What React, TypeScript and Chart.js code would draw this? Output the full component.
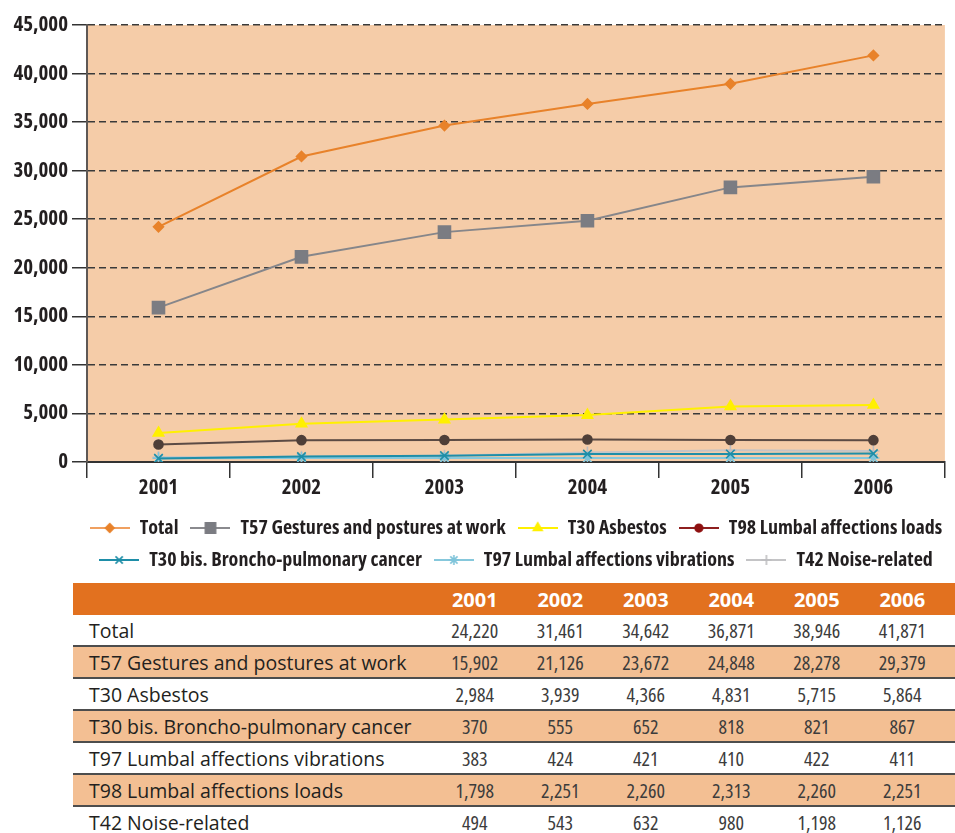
import React, { useEffect, useRef } from 'react';
import { Chart, registerables } from 'chart.js';
import { drawPoint } from 'chart.js/helpers';

Chart.register(...registerables);

// ---- data ----
const years = ['2001', '2002', '2003', '2004', '2005', '2006'];
const total = [24220, 31461, 34642, 36871, 38946, 41871];
const t57 = [15902, 21126, 23672, 24848, 28278, 29379];
const t30 = [2984, 3939, 4366, 4831, 5715, 5864];
const t30bis = [370, 555, 652, 818, 821, 867];
const t97 = [383, 424, 421, 410, 422, 411];
const t98 = [1798, 2251, 2260, 2313, 2260, 2251];
const t42 = [494, 543, 632, 980, 1198, 1126];

const labelTotal = 'Total';
const labelT57 = 'T57 Gestures and postures at work';
const labelT30 = 'T30 Asbestos';
const labelT98 = 'T98 Lumbal affections loads';
const labelT30bis = 'T30 bis. Broncho-pulmonary cancer';
const labelT97 = 'T97 Lumbal affections vibrations';
const labelT42 = 'T42 Noise-related';

const yMax = 45000;
const yStep = 5000;

const CHART_FONT = "'Open Sans', 'Noto Sans', sans-serif";
const CONDENSED_BOLD = 'condensed bold';
const TABLE_FONT = "'Open Sans', 'Noto Sans', sans-serif";

type SeriesStyle = {
  label: string;
  data: number[];
  line: string;
  marker: string;
  legendLine: string;
  legendMarker: string;
  style: string;
  radius: number;
};

const series: SeriesStyle[] = [
  { label: labelTotal, data: total, line: '#E8822A', marker: '#E8822A', legendLine: '#F0A060', legendMarker: '#E8822A', style: 'rectRot', radius: 5 },
  { label: labelT57, data: t57, line: '#86868A', marker: '#7B7C82', legendLine: '#8A8A8E', legendMarker: '#7B7C82', style: 'rect', radius: 8.5 },
  { label: labelT30, data: t30, line: '#FFF000', marker: '#FFF000', legendLine: '#FFF000', legendMarker: '#FFF000', style: 'triangle', radius: 6 },
  { label: labelT98, data: t98, line: '#5C4B44', marker: '#4F3F38', legendLine: '#8E1F1F', legendMarker: '#8E1010', style: 'circle', radius: 4.5 },
  { label: labelT30bis, data: t30bis, line: '#1E8EA8', marker: '#1E8EA8', legendLine: '#1E8EA8', legendMarker: '#1E8EA8', style: 'crossRot', radius: 6 },
  { label: labelT97, data: t97, line: '#86C8DC', marker: '#7FC4DA', legendLine: '#86C8DC', legendMarker: '#7FC4DA', style: 'star', radius: 6 },
  { label: labelT42, data: t42, line: '#C4C4C6', marker: '#BDBDC0', legendLine: '#C4C4C6', legendMarker: '#BDBDC0', style: 'cross', radius: 6 },
];

const tableRows: [string, number[]][] = [
  [labelTotal, total],
  [labelT57, t57],
  [labelT30, t30],
  [labelT30bis, t30bis],
  [labelT97, t97],
  [labelT98, t98],
  [labelT42, t42],
];

const fmt = (v: number) => v.toLocaleString('en-US');

function legendImage(s: SeriesStyle): HTMLCanvasElement {
  const c = document.createElement('canvas');
  c.width = 40;
  c.height = 16;
  const ctx = c.getContext('2d')!;
  ctx.strokeStyle = s.legendLine;
  ctx.lineWidth = 2;
  ctx.beginPath();
  ctx.moveTo(0, 8);
  ctx.lineTo(40, 8);
  ctx.stroke();
  ctx.fillStyle = s.legendMarker;
  ctx.strokeStyle = s.legendMarker;
  ctx.lineWidth = 1.6;
  drawPoint(ctx, { pointStyle: s.style as any, radius: s.radius * 0.85, rotation: 0, borderWidth: 1.6 } as any, 20, 8);
  return c;
}

const bgPlugin = {
  id: 'plotBg',
  beforeDraw(chart: any) {
    const { ctx, chartArea } = chart;
    if (!chartArea) return;
    ctx.save();
    ctx.fillStyle = '#F5CCA8';
    ctx.fillRect(chartArea.left, chartArea.top, chartArea.right - chartArea.left, chartArea.bottom - chartArea.top);
    ctx.restore();
  },
};

// shift the legend block so that it is centred under the plot area like the original
const legendShift = {
  id: 'legendShift',
  afterLayout(chart: any) {
    if (chart.legend) {
      chart.legend.left = 70;
      chart.legend.right = 962;
    }
  },
};

function LineChart() {
  const ref = useRef<HTMLCanvasElement | null>(null);
  useEffect(() => {
    if (!ref.current) return;
    const imgs = series.map(legendImage);
    const chart = new Chart(ref.current, {
      type: 'line',
      data: {
        labels: years,
        datasets: series.map((s) => ({
          label: s.label,
          data: s.data,
          borderColor: s.line,
          backgroundColor: s.marker,
          pointBackgroundColor: s.marker,
          pointBorderColor: s.marker,
          pointStyle: s.style as any,
          pointRadius: s.radius,
          pointBorderWidth: 1.6,
          borderWidth: 2,
          tension: 0,
          fill: false,
        })),
      },
      options: {
        animation: false,
        responsive: false,
        devicePixelRatio: 1,
        layout: { padding: { left: 0, right: 3, top: 25, bottom: 0 } },
        plugins: {
          tooltip: { enabled: false },
          legend: {
            position: 'bottom',
            align: 'center',
            labels: {
              usePointStyle: true,
              pointStyleWidth: 40,
              padding: 12,
              color: '#231F20',
              font: { family: CHART_FONT, size: 20, weight: CONDENSED_BOLD as any },
              generateLabels: (c: any) =>
                c.data.datasets.map((ds: any, i: number) => ({
                  text: ds.label,
                  pointStyle: imgs[i],
                  fillStyle: 'rgba(0,0,0,0)',
                  strokeStyle: 'rgba(0,0,0,0)',
                  lineWidth: 0,
                  hidden: false,
                  datasetIndex: i,
                  fontColor: '#231F20',
                })),
            },
          },
        },
        scales: {
          x: {
            type: 'category',
            offset: true,
            afterFit: (scale: any) => {
              scale.height = 44;
            },
            grid: {
              display: true,
              drawOnChartArea: false,
              drawTicks: true,
              tickLength: 16,
              offset: true,
              color: '#333333',
              lineWidth: 1.5,
            },
            border: { display: true, color: '#333333', width: 2 },
            ticks: {
              color: '#231F20',
              padding: -3,
              font: { family: CHART_FONT, size: 21, weight: CONDENSED_BOLD as any },
            },
          },
          y: {
            min: 0,
            max: yMax,
            afterFit: (scale: any) => {
              scale.width = 87;
            },
            grid: {
              display: true,
              drawTicks: true,
              tickLength: 15,
              color: (ctx: any) => (ctx.tick && ctx.tick.value === 0 ? 'rgba(0,0,0,0)' : '#3A3A3A'),
              tickColor: '#333333',
              lineWidth: 1.5,
              tickWidth: 1.5,
            },
            border: { display: true, color: '#5E5855', width: 2, dash: [7, 4] },
            ticks: {
              stepSize: yStep,
              color: '#231F20',
              padding: 4,
              font: { family: CHART_FONT, size: 21, weight: CONDENSED_BOLD as any },
              callback: (v: any) => fmt(Number(v)),
            },
          },
        },
      },
      plugins: [bgPlugin, legendShift],
    });
    return () => chart.destroy();
  }, []);
  return <canvas ref={ref} width={955} height={580} style={{ display: 'block', width: 955, height: 580 }} />;
}

function DataTable() {
  const cellBase: React.CSSProperties = {
    padding: 0,
    height: 30,
    verticalAlign: 'middle',
    whiteSpace: 'nowrap',
  };
  return (
    <table
      style={{
        position: 'absolute',
        left: 73,
        top: 583,
        width: 882,
        borderCollapse: 'collapse',
        tableLayout: 'fixed',
        fontFamily: TABLE_FONT,
        fontSize: 19.5,
        color: '#231F20',
      }}
    >
      <colgroup>
        <col style={{ width: 359 }} />
        {years.map((y) => (
          <col key={y} style={{ width: 85.5 }} />
        ))}
        <col style={{ width: 10 }} />
      </colgroup>
      <thead>
        <tr style={{ background: '#E2711F' }}>
          <th style={{ ...cellBase, height: 32 }} />
          {years.map((y) => (
            <th key={y} style={{ ...cellBase, height: 32, color: '#FFFFFF', fontWeight: 700, fontSize: 20, textAlign: 'center' }}>
              {y}
            </th>
          ))}
          <th style={{ ...cellBase, height: 32 }} />
        </tr>
      </thead>
      <tbody>
        {tableRows.map(([name, vals], i) => (
          <tr key={name} style={{ background: i % 2 === 1 ? '#F3BF93' : '#FFFFFF', borderBottom: '2px solid #4D4D4D' }}>
            <td style={{ ...cellBase, paddingLeft: 16, textAlign: 'left' }}>{name}</td>
            {vals.map((v, j) => (
              <td key={j} style={{ ...cellBase, textAlign: 'center', color: '#3C3C3C', fontSize: 20, fontStretch: 'semi-condensed' }}>
                {fmt(v)}
              </td>
            ))}
            <td style={cellBase} />
          </tr>
        ))}
      </tbody>
    </table>
  );
}

export default function App() {
  return (
    <div style={{ position: 'absolute', left: 0, top: 0, width: 955, height: 833, overflow: 'hidden', background: '#FFFFFF' }}>
      <LineChart />
      <DataTable />
    </div>
  );
}
